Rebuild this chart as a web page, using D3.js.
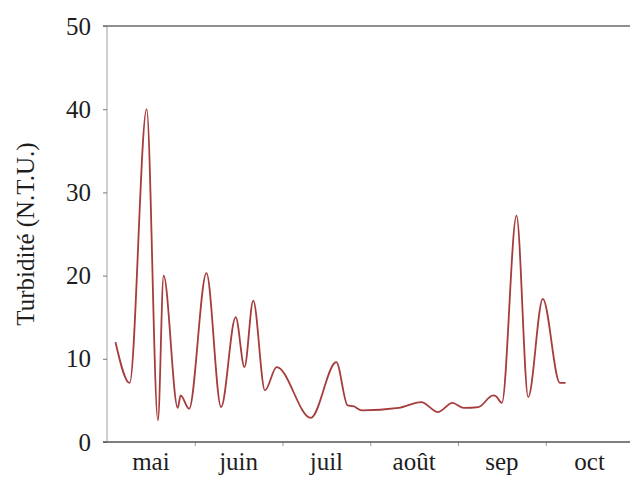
<!DOCTYPE html>
<html>
<head>
<meta charset="utf-8">
<script src="https://cdn.jsdelivr.net/npm/d3@7"></script>
<style>
  html, body { margin: 0; padding: 0; background: #fff; }
  svg { display: block; }
  text { font-family: "Liberation Serif", "Times New Roman", serif; fill: #1e1e1e; }
</style>
</head>
<body>
<svg id="chart" width="630" height="477"></svg>
<script>
// Sampling dates (2000 season) and measured turbidity in N.T.U.
const sampleDates = [
  "05-04", "05-09", "05-15", "05-19", "05-21", "05-26", "05-27", "05-30",
  "06-05", "06-10", "06-15", "06-18", "06-21", "06-25", "06-29",
  "07-11", "07-20", "07-24", "07-26", "07-29",
  "08-11", "08-19", "08-25", "08-30",
  "09-03", "09-08", "09-13", "09-14", "09-16", "09-21", "09-25", "09-30",
  "10-06", "10-08"
];
const turbidity = [
  12.0, 7.1, 40.0, 2.6, 20.0, 4.1, 5.6, 4.0,
  20.3, 4.2, 15.0, 9.0, 17.0, 6.2, 9.0,
  2.9, 9.6, 4.4, 4.3, 3.8,
  4.1, 4.8, 3.6, 4.7,
  4.1, 4.2, 5.6, 5.5, 4.7, 27.2, 5.4, 17.2,
  7.1, 7.1
];
const monthLabels = ["mai", "juin", "juil", "août", "sep", "oct"];
const firstMonth = 5;
const yTicks = [0, 10, 20, 30, 40, 50];

const svg = d3.select("#chart");
const W = 630, H = 477;
const plotLeft = 107, plotTop = 26, plotBottom = 442;
const monthWidth = 87.75;

// Position of a date expressed in months since 1 May
function monthPos(md) {
  const [m, d] = md.split("-").map(Number);
  const days = new Date(2000, m, 0).getDate();
  return (m - firstMonth) + (d - 1) / days;
}

const x = d3.scaleLinear().domain([0, monthLabels.length])
  .range([plotLeft, plotLeft + monthWidth * monthLabels.length]);
const y = d3.scaleLinear().domain([0, 50]).range([plotBottom, plotTop]);

// Plot frame: light left axis, darker top and bottom rules
svg.append("line")
  .attr("x1", plotLeft).attr("x2", plotLeft).attr("y1", plotTop).attr("y2", plotBottom)
  .attr("stroke", "#b0b0b0").attr("stroke-width", 1.2);
svg.append("line")
  .attr("x1", plotLeft - 4).attr("x2", W).attr("y1", y(50)).attr("y2", y(50))
  .attr("stroke", "#6a6a6a").attr("stroke-width", 1.4);

// Y axis
const yAxis = svg.append("g")
  .attr("transform", `translate(${plotLeft},0)`)
  .call(d3.axisLeft(y).tickValues(yTicks).tickSize(4).tickPadding(12).tickFormat(d3.format("d")));
yAxis.select(".domain").remove();
yAxis.selectAll(".tick line").attr("stroke", "#777");
yAxis.selectAll(".tick text")
  .attr("font-size", 25)
  .attr("fill", "#1e1e1e");

// X axis: ticks at month boundaries, labels centred in each month
const xAxis = svg.append("g")
  .attr("transform", `translate(0,${plotBottom})`)
  .call(d3.axisBottom(x).tickValues(d3.range(1, monthLabels.length)).tickSize(4).tickFormat(""));
xAxis.select(".domain").remove();
xAxis.selectAll(".tick line").attr("stroke", "#999");
svg.append("line")
  .attr("x1", plotLeft - 4).attr("x2", W).attr("y1", plotBottom).attr("y2", plotBottom)
  .attr("stroke", "#555").attr("stroke-width", 1.4);

svg.append("g").selectAll("text")
  .data(monthLabels)
  .join("text")
  .attr("x", (d, i) => x(i + 0.5))
  .attr("y", 470)
  .attr("text-anchor", "middle")
  .attr("font-size", 25)
  .text(d => d);

// Axis title
svg.append("text")
  .attr("transform", `translate(34,${(plotTop + plotBottom) / 2}) rotate(-90)`)
  .attr("text-anchor", "middle")
  .attr("font-size", 25)
  .text("Turbidité (N.T.U.)");

// Turbidity series
const series = sampleDates.map((d, i) => ({ t: monthPos(d), v: turbidity[i] }));
const line = d3.line()
  .x(d => x(d.t))
  .y(d => y(d.v))
  .curve(d3.curveMonotoneX);

svg.append("path")
  .datum(series)
  .attr("d", line)
  .attr("fill", "none")
  .attr("stroke", "#a63c3c")
  .attr("stroke-width", 1.8)
  .attr("stroke-linejoin", "round");
</script>
</body>
</html>
